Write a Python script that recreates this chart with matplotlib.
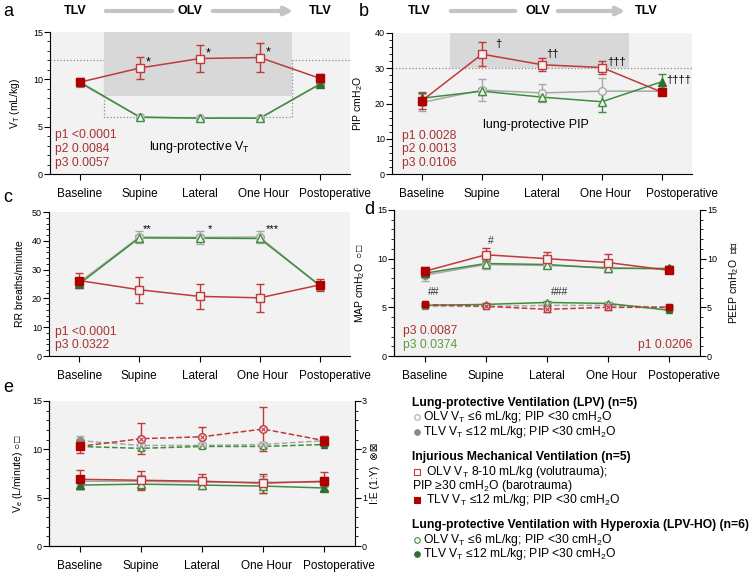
import numpy as np
import matplotlib
matplotlib.use('Agg')
from matplotlib import pyplot as plt
from matplotlib.lines import Line2D
from matplotlib.patches import Rectangle, FancyArrowPatch
from matplotlib.ticker import MultipleLocator
from matplotlib.transforms import ScaledTranslation

plt.rcParams['font.family'] = ['Liberation Sans', 'DejaVu Sans']
plt.rcParams['mathtext.fontset'] = 'custom'
plt.rcParams['mathtext.rm'] = 'Liberation Sans'
plt.rcParams['mathtext.it'] = 'Liberation Sans:italic'
plt.rcParams['mathtext.bf'] = 'Liberation Sans:bold'

stages = ['Baseline', 'Supine', 'Lateral', 'One Hour', 'Postoperative']

# tidal volume (mL/kg)
vt_lpv = [9.6, 6.0, 5.9, 5.9, 9.5]
vt_lpv_err = [0.4, 0.1, 0.1, 0.1, 0.3]
vt_inj = [9.7, 11.2, 12.2, 12.3, 10.1]
vt_inj_err = [0.4, 1.2, 1.4, 1.5, 0.5]
vt_ho = [9.7, 6.0, 5.9, 5.9, 9.5]
vt_ho_err = [0.3, 0.1, 0.1, 0.1, 0.2]

# peak inspiratory pressure (cmH2O)
pip_lpv = [20.3, 23.8, 23.0, 23.5, 23.5]
pip_lpv_err = [2.5, 3.2, 2.5, 3.7, 0.5]
pip_inj = [20.8, 34.0, 31.0, 30.2, 23.2]
pip_inj_err = [2.3, 3.5, 1.8, 1.8, 0.8]
pip_ho = [21.5, 23.5, 21.8, 20.5, 26.2]
pip_ho_err = [1.8, 1.0, 1.0, 3.0, 2.2]

# respiratory rate
rr_lpv = [25.5, 41.3, 41.2, 41.3, 24.3]
rr_lpv_err = [1.5, 2.2, 2.2, 2.2, 1.5]
rr_inj = [26.2, 23.0, 20.7, 20.2, 24.7]
rr_inj_err = [2.7, 4.5, 4.3, 4.8, 2.0]
rr_ho = [25.0, 41.0, 40.9, 40.8, 24.5]
rr_ho_err = [0.8, 1.0, 1.0, 1.0, 0.8]

# mean airway pressure
map_lpv = [8.3, 9.4, 9.3, 9.1, 8.9]
map_lpv_err = [0.6, 0.5, 0.3, 0.5, 0.3]
map_inj = [8.7, 10.4, 10.0, 9.6, 8.8]
map_inj_err = [0.4, 0.7, 0.7, 0.9, 0.3]
map_ho = [8.5, 9.5, 9.4, 9.0, 9.0]
map_ho_err = [0.3, 0.3, 0.2, 0.4, 0.2]

# PEEP
peep_lpv = [5.1, 5.1, 5.2, 5.2, 5.0]
peep_lpv_err = [0.1, 0.1, 0.1, 0.1, 0.1]
peep_inj = [5.3, 5.1, 4.8, 5.0, 5.0]
peep_inj_err = [0.1, 0.1, 0.3, 0.3, 0.1]
peep_ho = [5.2, 5.3, 5.5, 5.4, 4.7]
peep_ho_err = [0.1, 0.1, 0.1, 0.1, 0.1]

# minute ventilation (L/minute)
ve_lpv = [6.7, 6.7, 6.6, 6.6, 6.6]
ve_lpv_err = [0.5, 0.6, 0.5, 0.6, 0.5]
ve_inj = [6.9, 6.8, 6.7, 6.5, 6.7]
ve_inj_err = [1.0, 1.0, 0.8, 1.0, 1.0]
ve_ho = [6.3, 6.4, 6.3, 6.2, 6.0]
ve_ho_err = [0.4, 0.5, 0.3, 0.7, 0.2]

# I:E ratio (1:Y)
ie_lpv = [2.18, 2.08, 2.08, 2.10, 2.18]
ie_lpv_err = [0.1, 0.1, 0.06, 0.06, 0.1]
ie_inj = [2.06, 2.22, 2.26, 2.42, 2.18]
ie_inj_err = [0.14, 0.32, 0.2, 0.46, 0.1]
ie_ho = [2.06, 2.02, 2.06, 2.06, 2.10]
ie_ho_err = [0.03, 0.04, 0.03, 0.04, 0.03]

RED = '#c0393b'
RED_F = '#b00000'
GREEN = '#3e8e3e'
GREEN_F = '#2e7030'
GRAY = '#a8a8a8'
GRAY_F = '#8a8a8a'
PTXT = '#a83232'
GTXT = '#5c9c3c'
BG = '#f2f2f2'
W, H = 755, 572
x = np.arange(len(stages))


def px_ax(fig, l, t, r, b):
    return fig.add_axes([l / W, 1 - b / H, (r - l) / W, (b - t) / H])


def style(ax, ymax, major, minor, post_shift=15):
    ax.set_facecolor(BG)
    ax.set_xlim(-0.5, 4.5)
    ax.set_ylim(0, ymax)
    ax.yaxis.set_major_locator(MultipleLocator(major))
    ax.yaxis.set_minor_locator(MultipleLocator(minor))
    ax.spines['top'].set_visible(False)
    ax.spines['right'].set_visible(False)
    ax.set_xticks(x)
    ax.set_xticklabels(stages)
    ax.tick_params(axis='x', labelsize=8.5, length=4, width=0.8, pad=6)
    ax.tick_params(axis='y', which='major', labelsize=6.5, length=4, width=0.8, pad=1)
    ax.tick_params(axis='y', which='minor', length=2, width=0.6)
    # the last labels sit a little right of their ticks in the original
    labels = ax.get_xticklabels()
    for lab, dx in [(labels[3], 3), (labels[4], post_shift)]:
        lab.set_transform(lab.get_transform() + ScaledTranslation(dx / 100, 0, fig.dpi_scale_trans))


def series(ax, y, err, color, fcolor, marker, ls='-', ms=5.5, cross=False, z=3):
    y = np.array(y)
    ax.plot(x, y, color=color, ls=ls, lw=1.1, zorder=z)
    ax.errorbar(x, y, yerr=err, fmt='none', ecolor=color, elinewidth=1, capsize=3, capthick=1, zorder=z)
    olv = [1, 2, 3]
    tlv = [0, 4]
    ax.plot(x[olv], y[olv], ls='none', marker=marker, ms=ms, mfc=BG, mec=color, mew=1, zorder=z + 0.1)
    ax.plot(x[tlv], y[tlv], ls='none', marker=marker, ms=ms, mfc=fcolor, mec=fcolor, zorder=z + 0.1)
    if cross:
        ax.plot(x[olv], y[olv], ls='none', marker='x', ms=ms * 0.55, mec=color, mew=0.8, zorder=z + 0.2)


fig = plt.figure(figsize=(W / 100, H / 100), dpi=100)

# ---- header
for t, xp in [('TLV', 75), ('OLV', 190), ('TLV', 320), ('TLV', 419), ('OLV', 538), ('TLV', 646)]:
    fig.text(xp / W, 1 - 11 / H, t, ha='center', va='center', fontsize=9, fontweight='bold')
for x0, x1, head in [(103, 175, False), (210, 296, True), (448, 518, False), (555, 628, True)]:
    fig.add_artist(FancyArrowPatch((x0 / W, 1 - 11 / H), (x1 / W, 1 - 11 / H), transform=fig.transFigure,
                                   arrowstyle='-|>' if head else '-', mutation_scale=12, lw=3,
                                   color='#c4c4c4'))
for t, xp, yp in [('a', 8, 12), ('b', 364, 12), ('c', 8, 197), ('d', 369, 209), ('e', 8, 388)]:
    fig.text(xp / W, 1 - yp / H, t, ha='center', va='center', fontsize=13)

# ---- a: tidal volume
ax = px_ax(fig, 50, 32, 350, 174)
style(ax, 15, 5, 1)
ax.axhline(12, color='#888888', ls=':', lw=0.9, zorder=1)
ax.plot([0.4, 0.4, 3.54, 3.54], [12, 6, 6, 12], color='#888888', ls=':', lw=0.9, zorder=1)
ax.add_patch(Rectangle((0.4, 8.2), 3.14, 6.8, color='#d8d8d8', lw=0, zorder=1.5))
series(ax, vt_lpv, vt_lpv_err, GRAY, GRAY_F, 'o')
series(ax, vt_ho, vt_ho_err, GREEN, GREEN_F, '^')
series(ax, vt_inj, vt_inj_err, RED, RED_F, 's')
for i in [1, 2, 3]:
    ax.text(x[i] + 0.1, vt_inj[i] + 0.55, '*', fontsize=9, va='center', ha='left')
ax.set_ylabel('V$_{\\mathrm{T}}$ (mL/kg)', fontsize=7.5)
ax.yaxis.set_label_coords(-0.095, 0.5)
for j, t in enumerate(['p1 <0.0001', 'p2 0.0084', 'p3 0.0057']):
    ax.text(0.017, 0.275 - j * 0.098, t, transform=ax.transAxes, color=PTXT, fontsize=8.7, va='center')
ax.text(0.5, 0.19, 'lung-protective V$_{\\mathrm{T}}$', transform=ax.transAxes, fontsize=9, ha='center', va='center')

# ---- b: PIP
ax = px_ax(fig, 392, 33, 692, 174)
style(ax, 40, 10, 2, post_shift=20)
ax.axhline(30, color='#888888', ls=':', lw=0.9, zorder=1)
ax.add_patch(Rectangle((0.47, 30), 2.98, 10, color='#d8d8d8', lw=0, zorder=1.5))
series(ax, pip_lpv, pip_lpv_err, GRAY, GRAY_F, 'o')
series(ax, pip_ho, pip_ho_err, GREEN, GREEN_F, '^')
series(ax, pip_inj, pip_inj_err, RED, RED_F, 's')
for xi, yi, t in [(1.22, 37.0, '†'), (2.07, 34.0, '††'), (3.08, 31.8, '†††'), (4.07, 26.8, '††††')]:
    ax.text(xi, yi, t, fontsize=8, va='center', ha='left')
ax.set_ylabel('PIP cmH$_{\\mathrm{2}}$O', fontsize=7.5)
ax.yaxis.set_label_coords(-0.09, 0.5)
for j, t in enumerate(['p1 0.0028', 'p2 0.0013', 'p3 0.0106']):
    ax.text(0.033, 0.27 - j * 0.096, t, transform=ax.transAxes, color=PTXT, fontsize=8.7, va='center')
ax.text(0.48, 0.35, 'lung-protective PIP', transform=ax.transAxes, fontsize=9, ha='center', va='center')

# ---- c: respiratory rate
ax = px_ax(fig, 49, 212, 350, 356)
style(ax, 50, 10, 2)
series(ax, rr_lpv, rr_lpv_err, GRAY, GRAY_F, 'o')
series(ax, rr_ho, rr_ho_err, GREEN, GREEN_F, '^')
series(ax, rr_inj, rr_inj_err, RED, RED_F, 's')
for xi, t in [(1.06, '**'), (2.13, '*'), (3.1, '***')]:
    ax.text(xi, 44.0, t, fontsize=8, va='center', ha='left')
ax.set_ylabel('RR breaths/minute', fontsize=7.5)
ax.yaxis.set_label_coords(-0.08, 0.5)
for j, t in enumerate(['p1 <0.0001', 'p3 0.0322']):
    ax.text(0.02, 0.17 - j * 0.095, t, transform=ax.transAxes, color=PTXT, fontsize=8.7, va='center')

# ---- d: MAP and PEEP
ax = px_ax(fig, 394, 210, 700, 356)
style(ax, 15, 5, 1)
series(ax, peep_lpv, peep_lpv_err, GRAY, GRAY_F, 's', ls='--', ms=5, cross=True)
series(ax, peep_ho, peep_ho_err, GREEN, GREEN_F, '^', ms=5)
series(ax, peep_inj, peep_inj_err, RED, RED_F, 's', ls='--', ms=5, cross=True)
series(ax, map_lpv, map_lpv_err, GRAY, GRAY_F, 'o')
series(ax, map_ho, map_ho_err, GREEN, GREEN_F, '^')
series(ax, map_inj, map_inj_err, RED, RED_F, 's')
ax.text(1.08, 11.8, '#', fontsize=7.5, ha='center', va='center', color='#333333')
ax.text(0.15, 6.6, '##', fontsize=7.5, ha='center', va='center', color='#333333')
ax.text(2.2, 6.6, '###', fontsize=7.5, ha='center', va='center', color='#333333')
ax.set_ylabel('MAP cmH$_{\\mathrm{2}}$O  ○□', fontsize=7.5)
ax.yaxis.set_label_coords(-0.088, 0.5)
ax.text(0.03, 0.17, 'p3 0.0087', transform=ax.transAxes, color=PTXT, fontsize=8.7, va='center')
ax.text(0.03, 0.075, 'p3 0.0374', transform=ax.transAxes, color=GTXT, fontsize=8.7, va='center')
ax.text(0.974, 0.075, 'p1 0.0206', transform=ax.transAxes, color=PTXT, fontsize=8.7, va='center', ha='right')
ax2 = ax.twinx()
ax2.set_ylim(0, 15)
ax2.yaxis.set_major_locator(MultipleLocator(5))
ax2.yaxis.set_minor_locator(MultipleLocator(1))
ax2.spines['top'].set_visible(False)
ax2.tick_params(axis='y', which='major', labelsize=6.5, length=4, width=0.8, pad=1)
ax2.tick_params(axis='y', which='minor', length=2, width=0.6)
ax2.set_ylabel('PEEP cmH$_{\\mathrm{2}}$O  ⊗⊠', fontsize=7.5, rotation=90)
ax2.yaxis.set_label_coords(1.09, 0.5)

# ---- e: minute ventilation and I:E
ax = px_ax(fig, 49, 401, 355, 546)
style(ax, 15, 5, 1)
series(ax, ve_lpv, ve_lpv_err, GRAY, GRAY_F, 'o')
series(ax, ve_ho, ve_ho_err, GREEN, GREEN_F, '^')
series(ax, ve_inj, ve_inj_err, RED, RED_F, 's')
ax.set_ylabel('V$_{\\mathrm{e}}$ (L/minute) ○□', fontsize=7.5)
ax.yaxis.set_label_coords(-0.08, 0.5)
ax2 = ax.twinx()
ax2.set_ylim(0, 3)
ax2.set_xlim(-0.5, 4.5)
ax2.yaxis.set_major_locator(MultipleLocator(1))
ax2.yaxis.set_minor_locator(MultipleLocator(0.2))
ax2.spines['top'].set_visible(False)
ax2.tick_params(axis='y', which='major', labelsize=6.5, length=4, width=0.8, pad=1)
ax2.tick_params(axis='y', which='minor', length=2, width=0.6)
series(ax2, ie_lpv, ie_lpv_err, GRAY, GRAY_F, 'o', ls='--', cross=True)
series(ax2, ie_ho, ie_ho_err, GREEN, GREEN_F, '^', ls='--', ms=5)
series(ax2, ie_inj, ie_inj_err, RED, RED_F, 'o', ls='--', cross=True)
ax2.plot(x[[0, 4]], np.array(ie_inj)[[0, 4]], ls='none', marker='s', ms=6, color=RED_F, zorder=4)
ax2.set_ylabel('I:E (1:Y)  ⊗⊠', fontsize=7.5)
ax2.yaxis.set_label_coords(1.05, 0.5)

# ---- legend text
legend_rows = [
    ('Lung-protective Ventilation (LPV) (n=5)', 403, 'bold', None),
    ('OLV V$_{\\mathrm{T}}$ ≤6 mL/kg; PIP <30 cmH$_{\\mathrm{2}}$O', 417, 'normal', ('o', 'none', GRAY)),
    ('TLV V$_{\\mathrm{T}}$ ≤12 mL/kg; PIP <30 cmH$_{\\mathrm{2}}$O', 432, 'normal', ('o', GRAY_F, GRAY_F)),
    ('Injurious Mechanical Ventilation (n=5)', 457, 'bold', None),
    (' OLV V$_{\\mathrm{T}}$ 8-10 mL/kg (volutrauma);', 472, 'normal', ('s', 'none', RED)),
    ('PIP ≥30 cmH$_{\\mathrm{2}}$O (barotrauma)', 486, 'normal', 'plain'),
    (' TLV V$_{\\mathrm{T}}$ ≤12 mL/kg; PIP <30 cmH$_{\\mathrm{2}}$O', 500, 'normal', ('s', RED_F, RED_F)),
    ('Lung-protective Ventilation with Hyperoxia (LPV-HO) (n=6)', 525, 'bold', None),
    ('OLV V$_{\\mathrm{T}}$ ≤6 mL/kg; PIP <30 cmH$_{\\mathrm{2}}$O', 540, 'normal', ('o', 'none', GREEN)),
    ('TLV V$_{\\mathrm{T}}$ ≤12 mL/kg; PIP <30 cmH$_{\\mathrm{2}}$O', 554, 'normal', ('o', GREEN_F, GREEN_F)),
]
for text, yp, weight, mk in legend_rows:
    xp = 412
    if isinstance(mk, tuple):
        m, fc, ec = mk
        ms = 4 if m == 'o' else 5
        fig.add_artist(Line2D([417 / W], [1 - yp / H], transform=fig.transFigure, marker=m, ms=ms,
                              mfc=fc, mec=ec, mew=0.8, ls='none'))
        xp = 423
    fig.text(xp / W, 1 - yp / H, text, fontsize=8.7, fontweight=weight, va='center', ha='left')

fig.savefig('out.png', dpi=100)
